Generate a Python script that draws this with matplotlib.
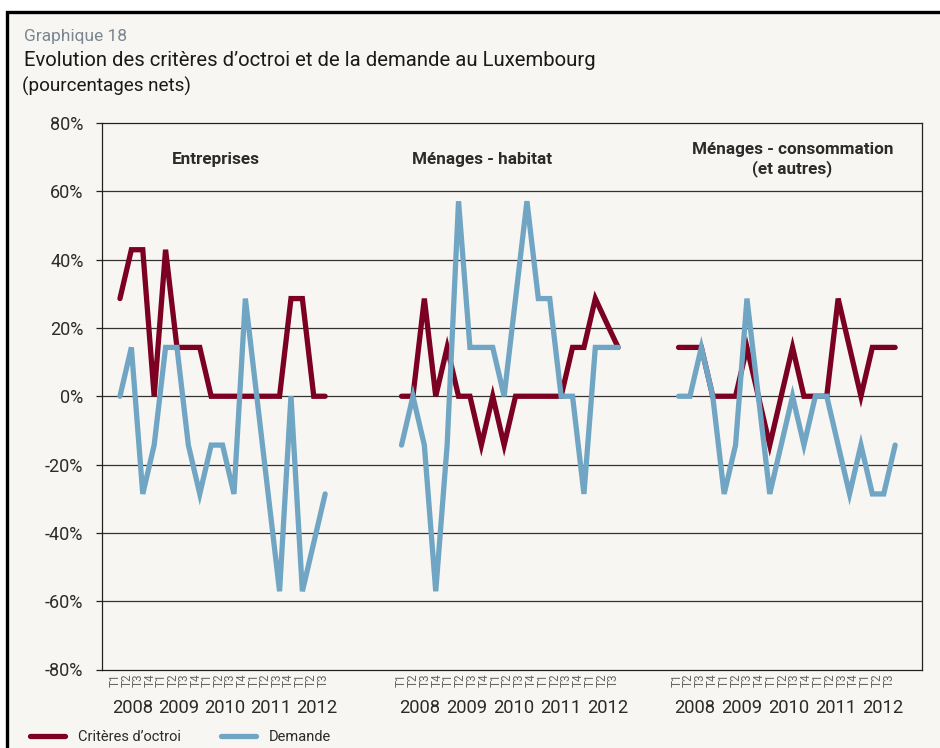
import numpy as np
import matplotlib
matplotlib.use("Agg")
import matplotlib.pyplot as plt
from matplotlib.patches import Rectangle
from matplotlib.lines import Line2D

plt.rcParams['font.family'] = ['Roboto', 'DejaVu Sans']

# --- data (pourcentages nets) ---
panels = ["Entreprises", "Ménages - habitat", "Ménages - consommation\n(et autres)"]
years = ["2008", "2009", "2010", "2011", "2012"]
quarters = ["T1", "T2", "T3", "T4"] * 4 + ["T1", "T2", "T3"]

crit_ent = [28.6, 42.9, 42.9, 0, 42.9, 14.3, 14.3, 14.3, 0, 0,
            0, 0, 0, 0, 0, 28.6, 28.6, 0, 0]
dem_ent = [0, 14.3, -28.6, -14.3, 14.3, 14.3, -14.3, -28.6, -14.3, -14.3,
           -28.6, 28.6, 0, -28.6, -57.1, 0, -57.1, -42.9, -28.6]

crit_hab = [0, 0, 28.6, 0, 14.3, 0, 0, -14.3, 0, -14.3,
            0, 0, 0, 0, 0, 14.3, 14.3, 28.6, 21.4, 14.3]
dem_hab = [-14.3, 0, -14.3, -57.1, -14.3, 57.1, 14.3, 14.3, 14.3, 0,
           28.6, 57.1, 28.6, 28.6, 0, 0, -28.6, 14.3, 14.3, 14.3]

crit_conso = [14.3, 14.3, 14.3, 0, 0, 0, 14.3, 0, -14.3, 0,
              14.3, 0, 0, 0, 28.6, 14.3, 0, 14.3, 14.3, 14.3]
dem_conso = [0, 0, 14.3, 0, -28.6, -14.3, 28.6, 0, -28.6, -14.3,
             0, -14.3, 0, 0, -14.3, -28.6, -14.3, -28.6, -28.6, -14.3]

criteres = [crit_ent, crit_hab, crit_conso]
demande = [dem_ent, dem_hab, dem_conso]

# --- layout ---
offsets = [0, 24.7, 49]
lab_start = [-0.4, 24.7, 48.85]
lab_span = [18.2, 18.6, 18.6]
title_x = [8.4, 31.8, 59.0]

RED = '#7b0022'
BLUE = '#70a6c3'
BG = '#f7f6f2'
TXT = '#2b2b2b'

W, H = 940, 748
fig = plt.figure(figsize=(W / 100, H / 100), dpi=100, facecolor='white')
fig.add_artist(Rectangle((7 / W, -0.1), 1.2, 1 - 12 / H + 0.1,
                         transform=fig.transFigure, facecolor=BG,
                         edgecolor='black', lw=2.4, zorder=-10))

ax = fig.add_axes([101.5 / W, 1 - 669.5 / H, 821 / W, 546.5 / H])
ax.set_facecolor(BG)

for p in range(3):
    xc = offsets[p] + np.arange(len(criteres[p]))
    xd = offsets[p] + np.arange(len(demande[p]))
    ax.plot(xc, criteres[p], color=RED, lw=3.8, solid_capstyle='round',
            solid_joinstyle='miter', zorder=3)
    ax.plot(xd, demande[p], color=BLUE, lw=3.8, solid_capstyle='round',
            solid_joinstyle='miter', zorder=4)
    ax.text(title_x[p], 69.4, panels[p], ha='center', va='center',
            fontsize=12.3, fontweight='semibold', color=TXT, linespacing=1.25)

ax.set_xlim(-1.62, 70.4)
ax.set_ylim(-80, 80)
yt = np.arange(-80, 81, 20)
ax.set_yticks(yt)
ax.set_yticklabels([f"{v}%" for v in yt], fontsize=13, color=TXT)
ax.tick_params(axis='y', length=4, width=0.9, pad=9, color='#222222')
for v in yt[1:-1]:
    ax.axhline(v, color='#333333', lw=0.9, zorder=1)
for s in ax.spines.values():
    s.set_color('#222222')
    s.set_linewidth(0.9)

ticks, labels = [], []
for p in range(3):
    step = lab_span[p] / 18
    pos = lab_start[p] + np.arange(19) * step
    ticks.extend(pos)
    labels.extend(quarters)
    for j, yr in enumerate(years):
        xc = lab_start[p] + (1.5 + 4 * j) * step
        ax.text(xc, -0.07, yr, transform=ax.get_xaxis_transform(),
                ha='center', va='center', fontsize=13.2, color=TXT)
ax.set_xticks(ticks)
ax.set_xticklabels(labels, rotation=90, fontsize=8.5, color='#666666')
ax.tick_params(axis='x', length=0, pad=3)

fig.text(24 / W, 1 - 37 / H, "Graphique 18", fontsize=12.5, color='#7a8690',
         va='center', ha='left')
fig.text(24 / W, 1 - 61 / H,
         "Evolution des critères d\u2019octroi et de la demande au Luxembourg",
         fontsize=14.6, color='#1a1a1a', va='center', ha='left')
fig.text(22 / W, 1 - 86 / H, "(pourcentages nets)", fontsize=13.6,
         color='#1a1a1a', va='center', ha='left')

handles = [Line2D([], [], color=RED, lw=3.8, solid_capstyle='round'),
           Line2D([], [], color=BLUE, lw=3.8, solid_capstyle='round')]
fig.legend(handles, ["Critères d\u2019octroi", "Demande"], loc='center left',
           bbox_to_anchor=(17 / W, 1 - 737 / H), ncol=2, frameon=False,
           fontsize=10.5, handlelength=2.4, handletextpad=0.9,
           columnspacing=2.7, labelcolor=TXT)

fig.savefig("out.png", dpi=100, facecolor=fig.get_facecolor())
